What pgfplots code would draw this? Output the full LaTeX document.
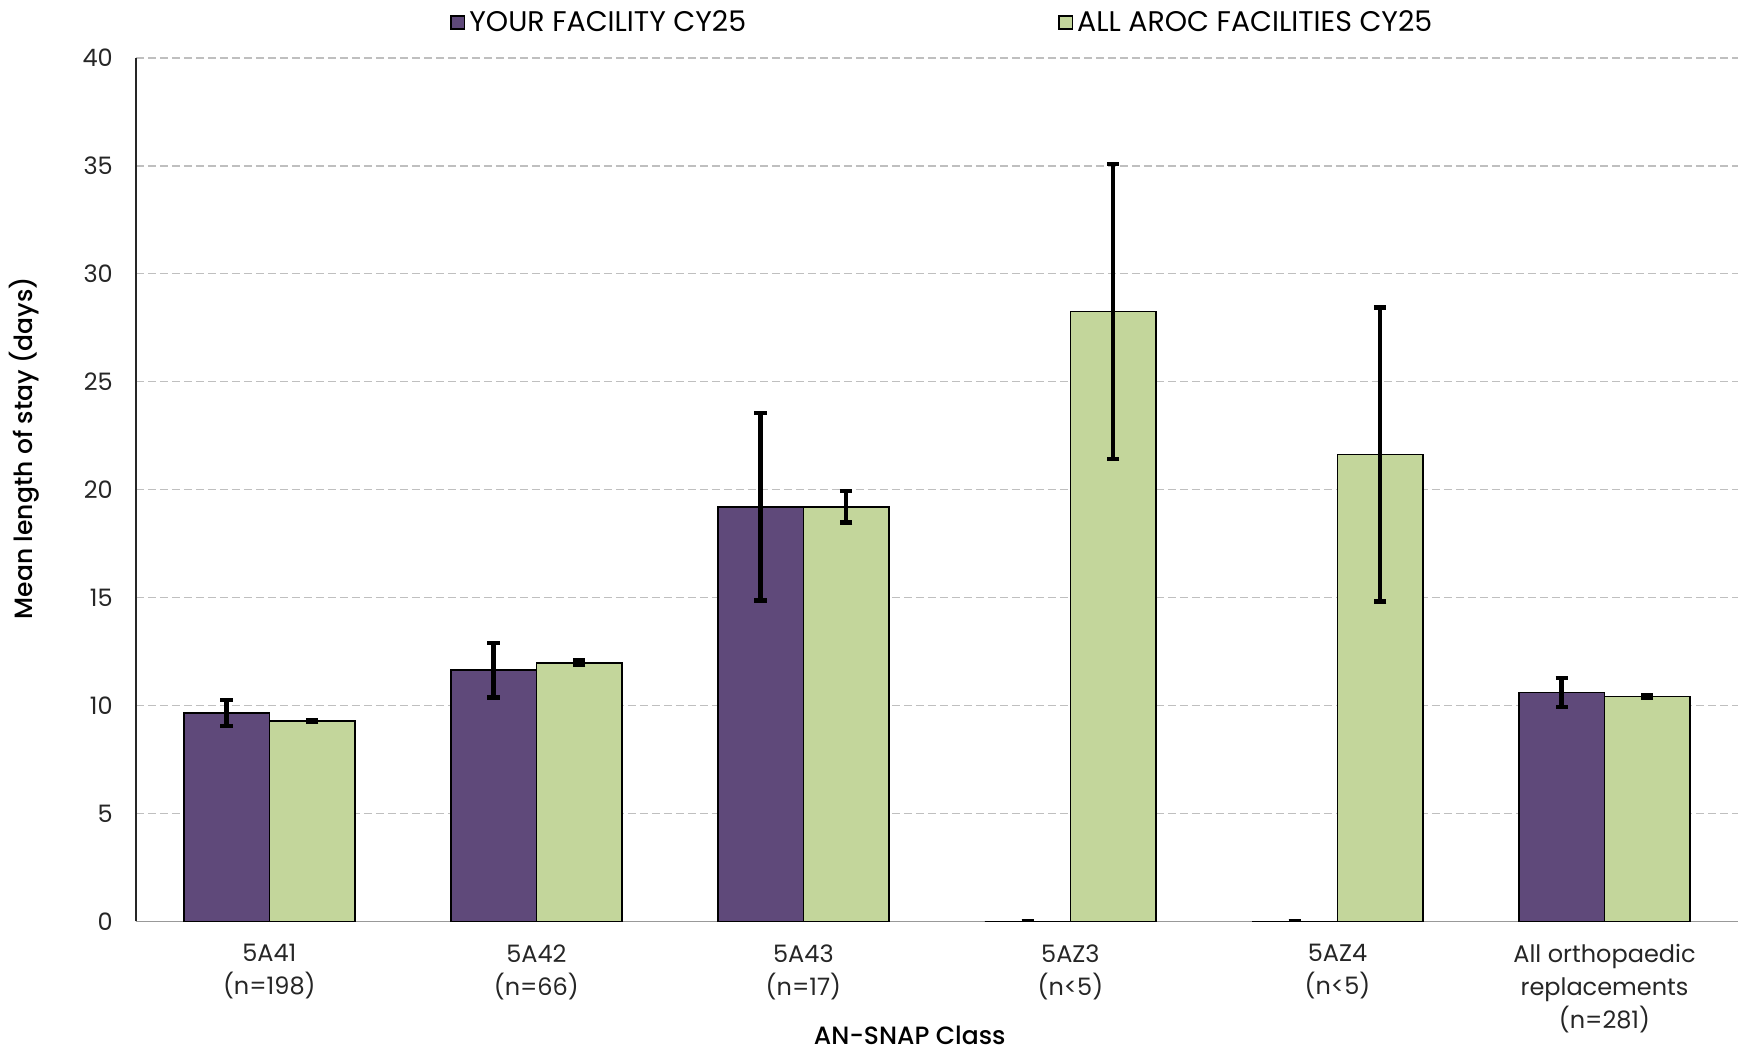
\documentclass[border=0pt]{standalone}
\usepackage{fontspec}
\setmainfont{Poppins}
\IfFontExistsTF{Poppins Medium}{\newfontfamily\medfont{Poppins Medium}}{\newcommand\medfont{\bfseries}}
\usepackage{pgfplots}
\usepackage{pgfplotstable}
\pgfplotsset{compat=1.18}
\definecolor{purp}{HTML}{5F497A}
\definecolor{grn}{HTML}{C3D69B}
\definecolor{gridgray}{HTML}{BFBFBF}
\pgfplotstableread{
x a ae b be
0 9.65 0.60 9.28 0.05
1 11.63 1.26 11.98 0.10
2 19.20 4.34 19.20 0.73
3 0 0 28.25 6.83
4 0 0 21.63 6.81
5 10.60 0.67 10.42 0.07
}\data
\begin{document}
\begin{tikzpicture}
\begin{axis}[
  scale only axis, width=801pt, height=431.6pt,
  anchor=south west, at={(0,0)},
  xmin=-0.5, xmax=5.5, ymin=0, ymax=40,
  ybar=0pt, bar width=0.32,
  xtick={0,1,2,3,4,5},
  xticklabels={{5A41\\(n=198)},{5A42\\(n=66)},{5A43\\(n=17)},{5AZ3\\(n<5)},{5AZ4\\(n<5)},{All orthopaedic\\replacements\\(n=281)}},
  ytick={0,5,...,40},
  major tick length=0pt,
  axis x line*=bottom, axis y line*=left,
  axis line style={-},
  x axis line style={draw=gray!80, line width=0.8pt},
  y axis line style={draw=black!85, line width=0.8pt},
  ymajorgrids, grid style={draw=gridgray, line width=0.6pt, dash pattern=on 4pt off 2pt},
  /pgf/number format/assume math mode=true,
  tick label style={font=\fontsize{12}{16.5}\selectfont, text=black!85},
  xticklabel style={align=center, yshift=-8pt},
  yticklabel style={xshift=-8pt},
  ylabel={Mean length of stay (days)},
  ylabel style={font=\medfont\fontsize{12.5}{15}\selectfont, at={(axis description cs:-0.0694,0.548)}, anchor=center},
  xlabel={AN-SNAP Class},
  xlabel style={font=\medfont\fontsize{12.5}{15}\selectfont, at={(axis description cs:0.483,0)}, anchor=center, yshift=-57pt},
  legend columns=2,
  legend style={at={(axis description cs:0.504,1)}, anchor=center, yshift=17.8pt, draw=none, fill=none,
    font=\fontsize{14.2}{17}\selectfont, /tikz/every even column/.append style={column sep=154pt}},
  legend image code/.code={\draw[#1, line width=0.8pt] (0pt,-3.3pt) rectangle (6.7pt,3.3pt);},
  error bars/error bar style={line width=2.3pt, black},
  error bars/error mark options={rotate=90, mark size=3.1pt, line width=2.2pt, black},
]
\addplot[fill=purp, draw=black, line width=0.8pt,
  error bars/.cd, y dir=both, y explicit] table[x=x, y=a, y error=ae]{\data};
\addplot[fill=grn, draw=black, line width=0.8pt,
  error bars/.cd, y dir=both, y explicit] table[x=x, y=b, y error=be]{\data};
\legend{YOUR FACILITY CY25, ALL AROC FACILITIES CY25}
\end{axis}
\pgfresetboundingbox
\path (-67.9pt,-65.5pt) rectangle (804pt,460.6pt);
\end{tikzpicture}
\end{document}
